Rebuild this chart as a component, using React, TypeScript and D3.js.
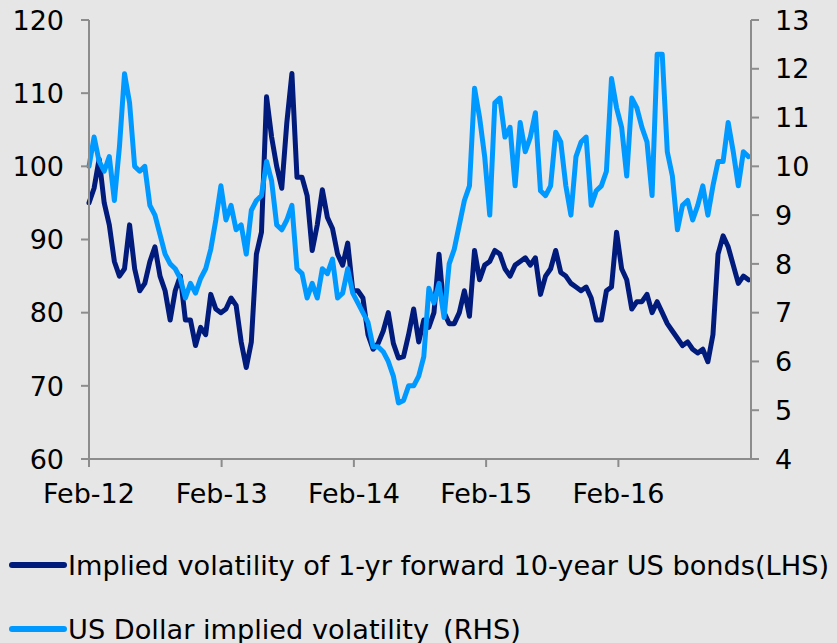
import React, { useEffect } from "react";
import * as d3 from "d3";

const startDate = "2012-02-01";
const stepDays = 14;

// Implied volatility of 1-yr forward 10-year US bonds (LHS)
const bondVol: number[] = [
  95, 97, 101, 95, 92, 87, 85, 86, 92, 86,
  83, 84, 87, 89, 85, 83, 79, 83, 85, 79,
  79, 75.5, 78, 77, 82.5, 80.5, 80, 80.5, 82, 81,
  76, 72.5, 76, 88, 91, 109.5, 104, 100, 97, 106,
  112.7, 98.5, 98.5, 96, 88.5, 92, 96.8, 93, 91.5, 88,
  86.5, 89.5, 83, 83, 82, 77, 75, 75.8, 77.5, 80,
  75.8, 73.8, 74, 77, 80.5, 76, 79, 78, 80, 88,
  80, 78.5, 78.5, 80, 83, 79.5, 88.5, 84.5, 86.5, 87,
  88.5, 88, 86, 85, 86.5, 87, 87.5, 86.5, 87.5, 82.5,
  85, 86, 88.5, 85.5, 85, 84, 83.5, 83, 83.5, 82,
  79, 79, 83, 83.5, 91, 86, 84.5, 80.5, 81.5, 81.5,
  82.5, 80, 81.5, 80, 78.5, 77.5, 76.5, 75.5, 76, 75,
  74.5, 75, 73.3, 77, 88, 90.5, 89, 86.5, 84, 85,
  84.5,
];

// US Dollar implied volatility (RHS)
const usdVol: number[] = [
  10.0, 10.6, 10.1, 9.9, 10.2, 9.3, 10.4, 11.9, 11.3, 10.0,
  9.9, 10.0, 9.2, 9.0, 8.6, 8.2, 8.0, 7.9, 7.7, 7.3,
  7.6, 7.4, 7.7, 7.9, 8.3, 8.9, 9.6, 8.9, 9.2, 8.7,
  8.8, 8.2, 9.1, 9.3, 9.4, 10.1, 9.7, 8.8, 8.7, 8.9,
  9.2, 7.9, 7.8, 7.3, 7.6, 7.3, 7.9, 7.8, 8.1, 7.3,
  7.4, 7.9, 7.4, 7.2, 7.0, 6.8, 6.3, 6.3, 6.2, 6.0,
  5.7, 5.15, 5.2, 5.5, 5.5, 5.7, 6.1, 7.5, 7.2, 7.6,
  6.9, 8.0, 8.3, 8.8, 9.3, 9.6, 11.6, 11.0, 10.2, 9.0,
  11.3, 11.4, 10.6, 10.8, 9.6, 10.9, 10.3, 10.6, 11.1, 9.5,
  9.4, 9.6, 10.7, 10.5, 9.6, 9.0, 10.2, 10.5, 10.6, 9.2,
  9.5, 9.6, 9.9, 11.8, 11.2, 10.8, 9.8, 11.4, 11.2, 10.8,
  10.5, 9.4, 12.3, 12.3, 10.3, 9.8, 8.7, 9.2, 9.3, 8.9,
  9.2, 9.6, 9.0, 9.6, 10.1, 10.1, 10.9, 10.3, 9.6, 10.3,
  10.2,
];

const leftTicks = [60, 70, 80, 90, 100, 110, 120];
const rightTicks = [4, 5, 6, 7, 8, 9, 10, 11, 12, 13];
const xTickDates = ["2012-02-01", "2013-02-01", "2014-02-01", "2015-02-01", "2016-02-01"];
const xTickLabels = ["Feb-12", "Feb-13", "Feb-14", "Feb-15", "Feb-16"];
const legendLabels = [
  "Implied volatility of 1-yr forward 10-year US bonds(LHS)",
  "US Dollar implied volatility\u2009 (RHS)",
];

const W = 837;
const H = 643;
const BG = "#e6e6e6";
const AXIS = "#8c8c8c";
const DARK = "#001b7c";
const LIGHT = "#0099ff";
const FONT = "'DejaVu Sans', Verdana, sans-serif";

const parse = d3.utcParse("%Y-%m-%d");

export default function App() {
  useEffect(() => {
    document.body.style.margin = "0";
    document.body.style.background = BG;
  }, []);

  const x = d3
    .scaleUtc()
    .domain([parse("2012-02-01")!, parse("2017-02-01")!])
    .range([89, 751]);
  const yL = d3.scaleLinear().domain([60, 120]).range([459, 20]);
  const yR = d3.scaleLinear().domain([4, 13]).range([459, 20]);

  const start = parse(startDate)!;
  const dateAt = (i: number) => d3.utcDay.offset(start, i * stepDays);

  const lineL = d3
    .line<number>()
    .x((_, i) => x(dateAt(i)))
    .y((d) => yL(d));
  const lineR = d3
    .line<number>()
    .x((_, i) => x(dateAt(i)))
    .y((d) => yR(d));

  const fs = 27;

  return (
    <svg width={W} height={H} style={{ position: "absolute", left: 0, top: 0, display: "block" }}>
      <rect x={0} y={0} width={W} height={H} fill={BG} />
      {/* series */}
      <path d={lineL(bondVol) || ""} fill="none" stroke={DARK} strokeWidth={5} strokeLinejoin="round" strokeLinecap="round" />
      <path d={lineR(usdVol) || ""} fill="none" stroke={LIGHT} strokeWidth={5} strokeLinejoin="round" strokeLinecap="round" />

      {/* left axis */}
      <line x1={89} x2={89} y1={yL(120)} y2={yL(60)} stroke={AXIS} strokeWidth={2} />
      {leftTicks.map((t) => (
        <g key={"l" + t}>
          <line x1={81} x2={89} y1={yL(t)} y2={yL(t)} stroke={AXIS} strokeWidth={2} />
          <text x={64} y={yL(t)} dy="0.36em" textAnchor="end" fontFamily={FONT} fontSize={fs} fill="#000">
            {t}
          </text>
        </g>
      ))}

      {/* right axis */}
      <line x1={751} x2={751} y1={yR(13)} y2={yR(4)} stroke={AXIS} strokeWidth={2} />
      {rightTicks.map((t) => (
        <g key={"r" + t}>
          <line x1={751} x2={759} y1={yR(t)} y2={yR(t)} stroke={AXIS} strokeWidth={2} />
          <text x={775} y={yR(t)} dy="0.36em" textAnchor="start" fontFamily={FONT} fontSize={fs} fill="#000">
            {t}
          </text>
        </g>
      ))}

      {/* x axis */}
      <line x1={81} x2={759} y1={459} y2={459} stroke={AXIS} strokeWidth={2} />
      {xTickDates.map((d, i) => {
        const px = x(parse(d)!);
        return (
          <g key={"x" + d}>
            <line x1={px} x2={px} y1={459} y2={467} stroke={AXIS} strokeWidth={2} />
            <text x={px} y={503} textAnchor="middle" fontFamily={FONT} fontSize={fs} fill="#000">
              {xTickLabels[i]}
            </text>
          </g>
        );
      })}

      {/* legend */}
      {legendLabels.map((lab, i) => {
        const ly = i === 0 ? 565 : 629;
        return (
          <g key={"lg" + i}>
            <line x1={12} x2={64} y1={ly} y2={ly} stroke={i === 0 ? DARK : LIGHT} strokeWidth={6} strokeLinecap="round" />
            <text
              x={68}
              y={ly + 9.5}
              fontFamily={FONT}
              fontSize={27.2}
              fill="#000"
              style={{ whiteSpace: "pre" }}
            >
              {lab}
            </text>
          </g>
        );
      })}
    </svg>
  );
}
